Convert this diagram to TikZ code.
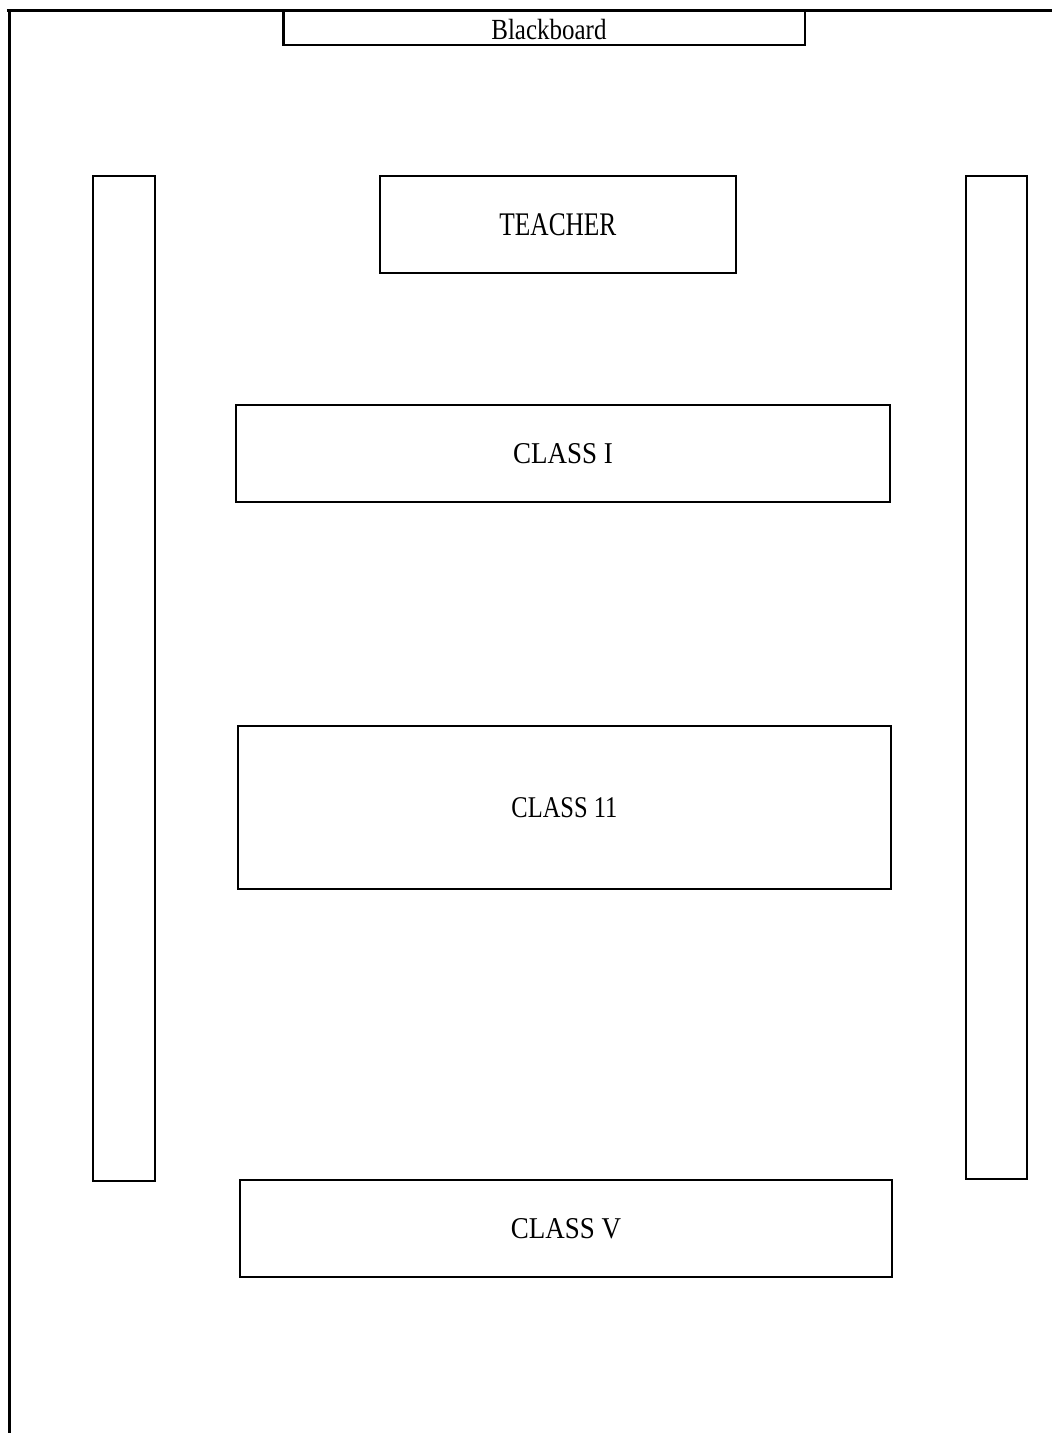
\documentclass[tikz,border=0pt]{standalone}
\usepackage{fontspec}
\setmainfont{Liberation Serif}
\newcommand{\tallText}[3]{{\fontsize{#1}{#1}\selectfont\scalebox{1}[#2]{#3}}}
\begin{document}
\begin{tikzpicture}[x=1pt, y=-1pt]
\tikzset{
  label/.style={inner sep=0pt},
  desk/.style={label, draw, line width=2pt},
  bench/.style={draw, line width=2.5pt}
}
% Background
\fill[white] (0, 0) rectangle (1053, 1434);

% Outer Walls
\draw[line width=3pt] (7, 11) -- (1053, 11);
\draw[line width=3pt] (10, 11) -- (10, 1434);

% Blackboard
\draw[line width=2.5pt] (284, 11) -- (284, 45) -- (806, 45) -- (806, 11);
\node[label] (board) at (549.5, 30) {\tallText{25}{1.17}{Blackboard}};

% Side Benches
\draw[bench] (93, 176) rectangle (155, 1182);
\draw[bench] (967, 176) rectangle (1028, 1180);

% Desks
\node[desk, minimum width=357pt, minimum height=97pt] (teacher) at (558.5, 224.5) {\tallText{25.4}{1.3}{TEACHER}};
\node[desk, minimum width=655pt, minimum height=98pt] (class1) at (563.5, 454) {\tallText{27}{1.12}{CLASS I}};
\node[desk, minimum width=654pt, minimum height=163pt] (class2) at (565, 808.5) {\tallText{24.5}{1.23}{CLASS 11}};
\node[desk, minimum width=653pt, minimum height=97pt] (class5) at (566.5, 1229.5) {\tallText{27}{1.12}{CLASS V}};
\end{tikzpicture}
\end{document}
